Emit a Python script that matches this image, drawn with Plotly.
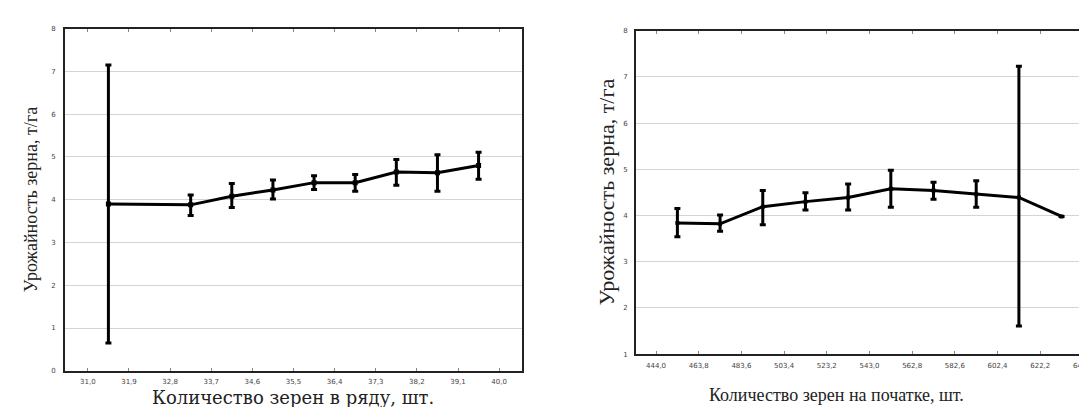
import plotly.graph_objects as go

# ---- Left chart data: grains per row ----
row_x = [31.45, 33.25, 34.15, 35.05, 35.95, 36.85, 37.75, 38.65, 39.55]
row_y = [3.90, 3.88, 4.08, 4.23, 4.40, 4.40, 4.65, 4.63, 4.80]
row_hi = [7.15, 4.11, 4.38, 4.46, 4.56, 4.59, 4.94, 5.05, 5.11]
row_lo = [0.65, 3.63, 3.82, 4.02, 4.24, 4.20, 4.34, 4.20, 4.48]
row_ticks = [31.0, 31.9, 32.8, 33.7, 34.6, 35.5, 36.4, 37.3, 38.2, 39.1, 40.0]
row_ticklabels = ["31,0", "31,9", "32,8", "33,7", "34,6", "35,5", "36,4", "37,3", "38,2", "39,1", "40,0"]

# ---- Right chart data: grains per ear ----
ear_x = [453.9, 473.7, 493.5, 513.3, 533.1, 552.9, 572.7, 592.5, 612.3, 632.1]
ear_y = [3.84, 3.82, 4.19, 4.30, 4.39, 4.58, 4.54, 4.46, 4.39, 3.98]
ear_hi = [4.15, 4.01, 4.54, 4.49, 4.68, 4.98, 4.72, 4.75, 7.23, None]
ear_lo = [3.54, 3.66, 3.80, 4.12, 4.12, 4.18, 4.35, 4.18, 1.61, None]
ear_ticks = [444.0, 463.8, 483.6, 503.4, 523.2, 543.0, 562.8, 582.6, 602.4, 622.2, 642.0]
ear_ticklabels = ["444,0", "463,8", "483,6", "503,4", "523,2", "543,0", "562,8", "582,6", "602,4", "622,2", "642,0"]

W, H = 1087, 407

def err(y, hi, lo):
    plus = [(h - v) if h is not None else 0 for v, h in zip(y, hi)]
    minus = [(v - l) if l is not None else 0 for v, l in zip(y, lo)]
    return plus, minus

fig = go.Figure()

rp, rm = err(row_y, row_hi, row_lo)
fig.add_trace(go.Scatter(
    x=row_x, y=row_y, mode="lines+markers", xaxis="x", yaxis="y",
    line=dict(color="black", width=3),
    marker=dict(symbol="square", size=5, color="black"),
    error_y=dict(type="data", symmetric=False, array=rp, arrayminus=rm,
                 color="black", thickness=3, width=3),
    showlegend=False))

ep, em = err(ear_y, ear_hi, ear_lo)
fig.add_trace(go.Scatter(
    x=ear_x, y=ear_y, mode="lines+markers", xaxis="x2", yaxis="y2",
    line=dict(color="black", width=3),
    marker=dict(symbol="square", size=4, color="black"),
    error_y=dict(type="data", symmetric=False, array=ep, arrayminus=em,
                 color="black", thickness=3, width=3),
    showlegend=False))

tickfont = dict(family="DejaVu Sans", size=7, color="#444444")
grid = "#d4d4d4"

fig.update_layout(
    width=W, height=H, margin=dict(l=0, r=0, t=0, b=0),
    paper_bgcolor="white", plot_bgcolor="white",
    xaxis=dict(domain=[57 / W, 514 / W], range=[30.5, 40.5],
               tickvals=row_ticks, ticktext=row_ticklabels,
               showgrid=False, zeroline=False, showline=True,
               linecolor="#222222", linewidth=2, mirror="ticks",
               ticks="inside", ticklen=3, tickcolor="#888888",
               tickfont=tickfont, ticklabelstandoff=3, anchor="y"),
    yaxis=dict(domain=[1 - 366 / H, 1 - 17 / H], range=[0, 8],
               tickvals=list(range(0, 9)), showgrid=True, gridcolor=grid,
               zeroline=False, showline=True, linecolor="#222222",
               linewidth=2, mirror=True, ticks="", tickfont=tickfont,
               ticklabelstandoff=6, anchor="x"),
    xaxis2=dict(domain=[628 / W, 1.0], range=[434.7, 647.6],
                tickvals=ear_ticks, ticktext=ear_ticklabels,
                showgrid=False, zeroline=False, showline=True,
                linecolor="#222222", linewidth=2, mirror="ticks",
                ticks="inside", ticklen=3, tickcolor="#888888",
                tickfont=tickfont, ticklabelstandoff=3, anchor="y2"),
    yaxis2=dict(domain=[1 - 349 / H, 1 - 19 / H], range=[1, 8],
                tickvals=list(range(1, 9)), showgrid=True, gridcolor=grid,
                zeroline=False, showline=True, linecolor="#222222",
                linewidth=2, mirror=False, ticks="", tickfont=tickfont,
                ticklabelstandoff=5, anchor="x2"),
)

ann = [
    dict(text="Урожайность зерна, т/га", x=23 / W, y=1 - 192 / H, textangle=-90,
         font=dict(family="Liberation Serif", size=18, color="#222222")),
    dict(text="Количество зерен в ряду, шт.", x=285 / W, y=1 - 393 / H,
         font=dict(family="DejaVu Serif", size=18, color="#222222")),
    dict(text="Урожайность зерна, т/га", x=598 / W, y=1 - 184 / H, textangle=-90,
         font=dict(family="Liberation Serif", size=22, color="#222222")),
    dict(text="Количество зерен на початке, шт.", x=828 / W, y=1 - 391 / H,
         font=dict(family="Liberation Serif", size=18, color="#222222")),
]
for a in ann:
    fig.add_annotation(xref="paper", yref="paper", showarrow=False,
                       xanchor="center", yanchor="middle", **a)

fig.write_html("out.html")
